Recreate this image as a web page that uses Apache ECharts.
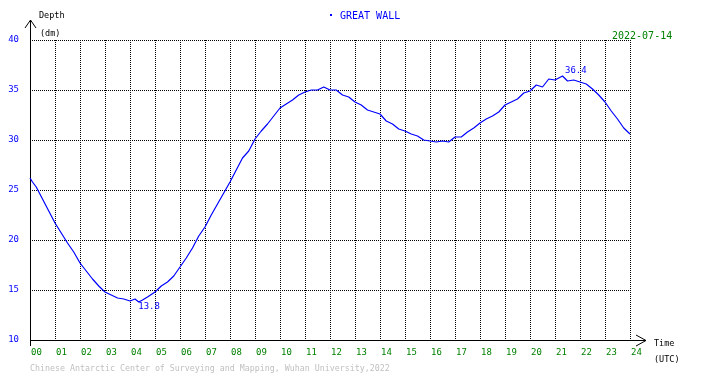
<!DOCTYPE html>
<html>
<head>
<meta charset="utf-8">
<script src="https://cdn.jsdelivr.net/npm/echarts/dist/echarts.min.js"></script>
<style>
  html, body { margin: 0; padding: 0; background: #fff; }
</style>
</head>
<body>
<div id="tide" style="width:710px;height:378px;"></div>
<script>
// hours (UTC)
var hours = [0.00, 0.10, 0.25, 0.50, 0.75, 1.00, 1.25, 1.50, 1.75, 2.00, 2.25, 2.50, 2.75,
  3.00, 3.25, 3.50, 3.75, 4.00, 4.20, 4.35, 4.50, 4.70, 5.00, 5.25, 5.50, 5.75,
  6.00, 6.25, 6.50, 6.75, 7.00, 7.25, 7.50, 7.75, 8.00, 8.25, 8.50, 8.75,
  9.00, 9.25, 9.50, 9.75, 10.00, 10.25, 10.50, 10.75, 11.00, 11.25, 11.50, 11.75,
  12.00, 12.25, 12.50, 12.75, 13.00, 13.25, 13.50, 13.75, 14.00, 14.25, 14.50, 14.75,
  15.00, 15.25, 15.50, 15.75, 16.00, 16.25, 16.50, 16.75, 17.00, 17.25, 17.50, 17.75,
  18.00, 18.25, 18.50, 18.75, 19.00, 19.25, 19.50, 19.75, 20.00, 20.25, 20.50, 20.75,
  21.00, 21.30, 21.50, 21.75, 22.00, 22.25, 22.50, 22.75, 23.00, 23.25, 23.50, 23.75, 24.00];
// depth in dm
var depth = [26.2, 25.8, 25.3, 24.1, 22.9, 21.7, 20.7, 19.7, 18.8, 17.7, 16.9, 16.1, 15.4,
  14.8, 14.5, 14.2, 14.1, 13.9, 14.1, 13.8, 14.0, 14.3, 14.8, 15.4, 15.8, 16.4,
  17.3, 18.2, 19.2, 20.4, 21.3, 22.5, 23.6, 24.7, 25.8, 27.0, 28.2, 28.9,
  30.1, 30.9, 31.6, 32.4, 33.2, 33.6, 34.0, 34.5, 34.8, 35.0, 35.0, 35.3,
  35.0, 35.0, 34.5, 34.3, 33.8, 33.5, 33.0, 32.8, 32.6, 31.9, 31.6, 31.1,
  30.9, 30.6, 30.4, 30.0, 29.9, 29.8, 29.9, 29.8, 30.3, 30.3, 30.8, 31.2,
  31.7, 32.1, 32.4, 32.8, 33.5, 33.8, 34.1, 34.7, 34.9, 35.5, 35.3, 36.1,
  36.0, 36.4, 35.9, 36.0, 35.8, 35.6, 35.1, 34.5, 33.8, 32.9, 32.1, 31.2, 30.6];

var stationName = "GREAT WALL";
var dateText = "2022-07-14";
var footer = "Chinese Antarctic Center of Surveying and Mapping, Wuhan University,2022";

var mono = "DejaVu Sans Mono";
var dotted = { color: "#000", width: 1, type: [1, 1] };

var seriesData = hours.map(function (h, i) { return [h, depth[i]]; });

var chart = echarts.init(document.getElementById('tide'), null, { renderer: 'canvas' });
chart.setOption({
  animation: false,
  backgroundColor: "#fff",
  grid: { left: 30, right: 80, top: 40, bottom: 38 },
  xAxis: {
    type: "value",
    min: 0, max: 24, interval: 1,
    axisLine: { show: false },
    axisTick: { show: false },
    splitLine: { show: true, lineStyle: dotted },
    axisLabel: {
      color: "#008000", fontFamily: mono, fontSize: 9,
      align: "left", margin: 8, padding: [0, 0, 0, 1],
      formatter: function (v) { return (v < 10 ? "0" : "") + v; }
    }
  },
  yAxis: {
    type: "value",
    min: 10, max: 40, interval: 5,
    axisLine: { show: false },
    axisTick: { show: false },
    splitLine: { show: true, lineStyle: dotted },
    axisLabel: { color: "#0000ff", fontFamily: mono, fontSize: 9, margin: 11 }
  },
  series: [{
    type: "line",
    data: seriesData,
    showSymbol: false,
    lineStyle: { color: "#0000ff", width: 1.2 },
    markPoint: {
      symbol: "rect",
      symbolSize: 1,
      itemStyle: { color: "rgba(0,0,0,0)" },
      label: {
        color: "#0000ff", fontFamily: mono, fontSize: 9,
        formatter: function (p) { return p.value.toFixed(1); }
      },
      data: [
        { type: "max", label: { position: [3, -9] } },
        { type: "min", label: { position: [0, 1] } }
      ]
    }
  }],
  graphic: [
    // axes with open arrow heads
    { type: "polyline", shape: { points: [[30.5, 346], [30.5, 20]] }, style: { stroke: "#000", lineWidth: 1, fill: null } },
    { type: "polyline", shape: { points: [[25, 28], [30.5, 20], [36, 28]] }, style: { stroke: "#000", lineWidth: 1, fill: null } },
    { type: "polyline", shape: { points: [[30, 340.5], [646, 340.5]] }, style: { stroke: "#000", lineWidth: 1, fill: null } },
    { type: "polyline", shape: { points: [[636, 335], [646, 340.5], [636, 346]] }, style: { stroke: "#000", lineWidth: 1, fill: null } },
    { type: "text", left: 39, top: 11, style: { text: "Depth", fill: "#000", font: "8.5px " + mono } },
    { type: "text", left: 40, top: 29, style: { text: "(dm)", fill: "#000", font: "8.5px " + mono } },
    { type: "text", left: 654, top: 339, style: { text: "Time", fill: "#000", font: "8.5px " + mono } },
    { type: "text", left: 654, top: 355, style: { text: "(UTC)", fill: "#000", font: "8.5px " + mono } },
    { type: "rect", shape: { x: 330, y: 14, width: 2, height: 2 }, style: { fill: "#0000ff" } },
    { type: "text", left: 340, top: 11, style: { text: stationName, fill: "#0000ff", font: "10px " + mono } },
    { type: "text", left: 610, top: 31, style: { text: dateText, fill: "#008000", font: "10px " + mono, backgroundColor: "#fff", padding: [0, 1, 0, 2] } },
    { type: "text", left: 30, top: 365, style: { text: footer, fill: "#c0c0c0", font: "8.3px " + mono } }
  ]
});
</script>
</body>
</html>
